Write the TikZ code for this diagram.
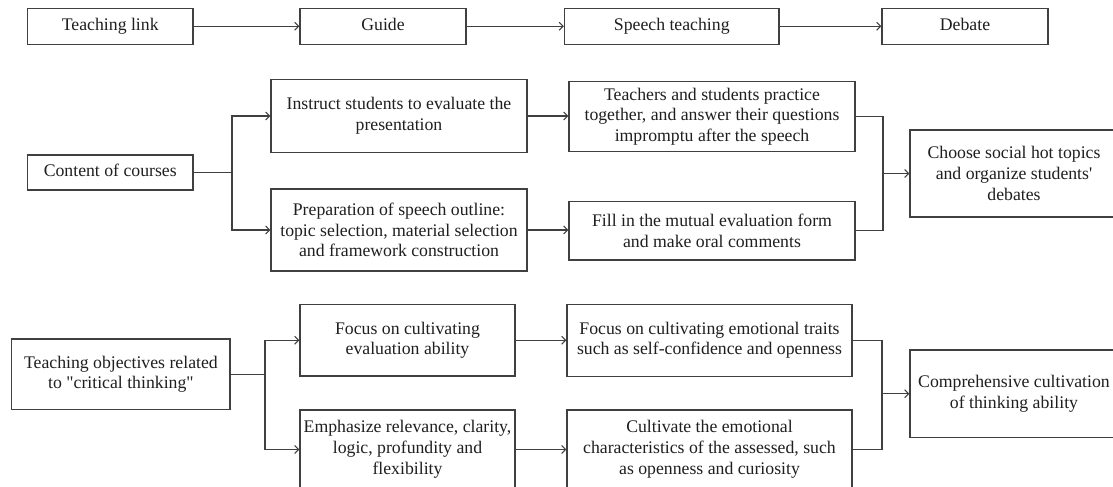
\documentclass[tikz,border=0pt]{standalone}
\usepackage{fontspec}
\setmainfont{Liberation Serif}[Ligatures=TeXOff]
\usetikzlibrary{arrows.meta}
\newdimen\pxu \pxu=0.75pt
\newcommand{\bx}[6]{\node[box, minimum width=#4*\pxu, minimum height=#5*\pxu] (#1) at (#2,#3) {#6};}
\newcommand{\ph}{\vphantom{Tg}}
\begin{document}
\begin{tikzpicture}[x=0.75pt,y=-0.75pt,
  box/.style={draw=black!75, line width=0.9pt, fill=white, align=center, inner sep=2pt,
    font=\fontsize{13.3}{15.6}\selectfont, text=black!88},
  conn/.style={draw=black!75, line width=0.8pt},
  arr/.style={conn, -{Straight Barb[length=3pt,width=6pt]}}]
\useasboundingbox (0,0) rectangle (1113,486);
\clip (0,0) rectangle (1113,486);
\fill[white] (0,0) rectangle (1113,486);

% row 1
\bx{link}{110.25}{26.3}{165.5}{36}{\ph Teaching link}
\bx{guide}{383}{26.3}{166}{36}{\ph Guide}
\bx{speech}{671.75}{26.3}{214.5}{36}{\ph Speech teaching}
\bx{debate}{965}{26.3}{166}{36}{\ph Debate}
\draw[arr] (link) -- (guide);
\draw[arr] (guide) -- (speech);
\draw[arr] (speech) -- (debate);

% row 2
\bx{content}{110.25}{172.5}{165.5}{35}{\ph Content of courses}
\bx{instruct}{399}{116}{256}{73}{Instruct students to evaluate the\\presentation}
\bx{prep}{399}{230}{256}{82}{Preparation of speech outline:\\topic selection, material selection\\and framework construction}
\bx{teachers}{712}{116.7}{286}{70}{Teachers and students practice\\together, and answer their questions\\impromptu after the speech}
\bx{fill}{712}{230.8}{286}{58.3}{Fill in the mutual evaluation form\\and make oral comments}
\bx{choose}{1014}{173.5}{208}{87}{Choose social hot topics\\and organize students'\\debates}
\coordinate (j1) at (232,0);
\coordinate (j2) at (883,0);
\draw[conn] (content.east) -- (content.east -| j1);
\draw[arr] (content.east -| j1) |- (instruct.west);
\draw[arr] (content.east -| j1) |- (prep.west);
\draw[arr] (instruct.east) -- (instruct.east -| teachers.west);
\draw[arr] (prep.east) -- (prep.east -| fill.west);
\draw[conn] (teachers.east) -- (teachers.east -| j2) -- (fill.east -| j2) -- (fill.east);
\draw[arr] (choose.west -| j2) -- (choose.west);

% row 3
\bx{obj}{120.9}{374.2}{218.2}{70.3}{Teaching objectives related\\to "critical thinking"}
\bx{feval}{407.5}{340.2}{215}{71.7}{Focus on cultivating\\evaluation ability}
\bx{emph}{407.5}{449.5}{215}{79}{Emphasize relevance, clarity,\\logic, profundity and\\flexibility}
\bx{femo}{709.5}{340.2}{285}{72}{Focus on cultivating emotional traits\\such as self-confidence and openness}
\bx{cult}{709.5}{449.5}{285}{79}{Cultivate the emotional\\characteristics of the assessed, such\\as openness and curiosity}
\bx{comp}{1014}{393.7}{208}{87.3}{Comprehensive cultivation\\of thinking ability}
\coordinate (j3) at (265,0);
\coordinate (j4) at (882,0);
\draw[conn] (obj.east) -- (obj.east -| j3);
\draw[arr] (obj.east -| j3) |- (feval.west);
\draw[arr] (obj.east -| j3) |- (emph.west);
\draw[arr] (feval.east) -- (femo.west);
\draw[arr] (emph.east) -- (cult.west);
\draw[conn] (femo.east) -- (femo.east -| j4) -- (cult.east -| j4) -- (cult.east);
\draw[arr] (comp.west -| j4) -- (comp.west);
\end{tikzpicture}
\end{document}
